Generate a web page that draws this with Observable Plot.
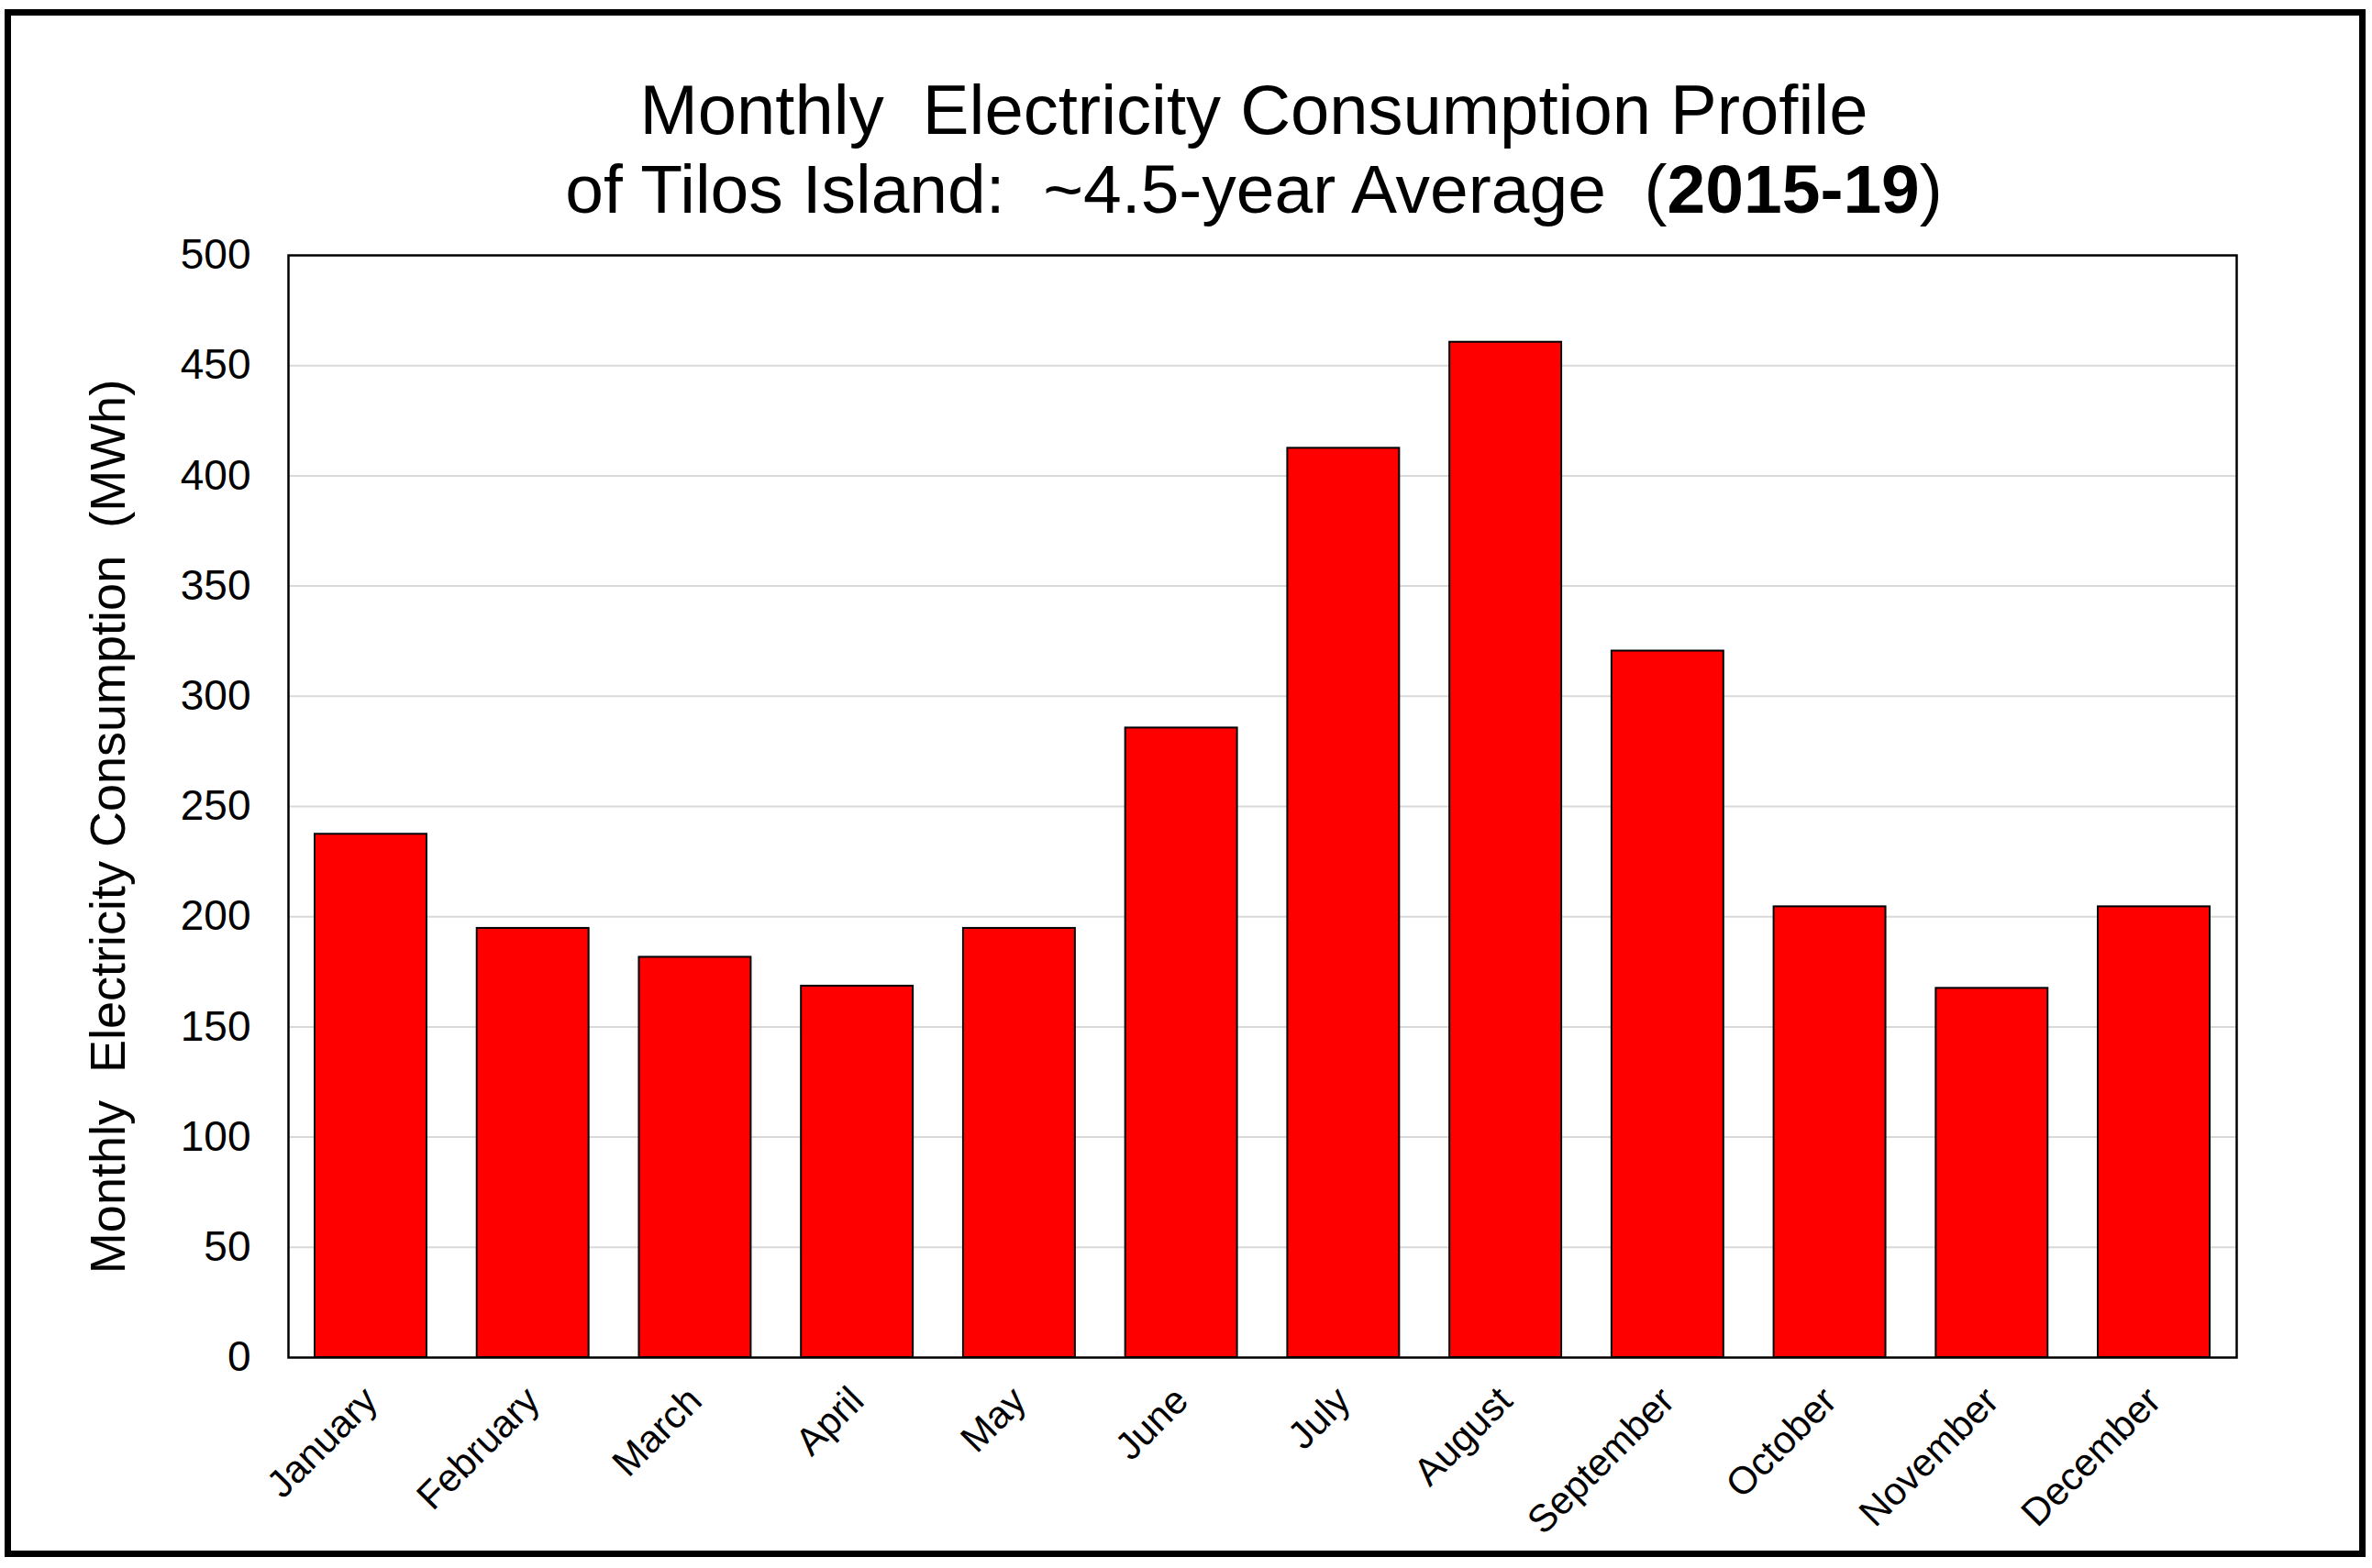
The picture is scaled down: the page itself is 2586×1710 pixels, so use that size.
<!DOCTYPE html>
<html>
<head>
<meta charset="utf-8">
<script src="https://cdn.jsdelivr.net/npm/d3@7"></script>
<script src="https://cdn.jsdelivr.net/npm/@observablehq/plot@0.6"></script>
<style>
  html, body { margin: 0; padding: 0; background: #fff; }
  #wrap { position: relative; width: 2586px; height: 1710px; overflow: hidden;
          font-family: Arial, "Liberation Sans", sans-serif; background: #fff; }
  #frame { position: absolute; left: 5px; top: 10px; width: 2574px; height: 1688px;
           border: 7px solid #000; box-sizing: border-box; pointer-events: none; }
  #title { position: absolute; left: 148px; top: 77px; width: 2438px; text-align: center;
           font-size: 76px; line-height: 86px; color: #000; white-space: pre; }
  #title .l2 { font-size: 75px; }
  #chart { position: absolute; left: 0; top: 240px; }
</style>
</head>
<body>
<div id="wrap">
  <div id="title"></div>
  <div id="chart"></div>
  <div id="frame"></div>
</div>
<script>
// ---- data ----
const months = ["January", "February", "March", "April", "May", "June",
                "July", "August", "September", "October", "November", "December"];
const consumption = [237.4, 194.7, 181.6, 168.5, 194.7, 285.6, 412.5, 460.6, 320.5, 204.5, 167.5, 204.5];
const yTicks = [0, 50, 100, 150, 200, 250, 300, 350, 400, 450, 500];
const gridTicks = [50, 100, 150, 200, 250, 300, 350, 400, 450];
const titleLine1 = "Monthly  Electricity Consumption Profile";
const titleLine2a = "of Tilos Island:  ~4.5-year Average  (";
const titleLine2b = "2015-19";
const titleLine2c = ")";
const yLabel = "Monthly  Electricity Consumption  (MWh)";

// ---- title ----
const t = document.getElementById("title");
t.append(document.createTextNode(titleLine1));
t.append(document.createElement("br"));
const l2 = document.createElement("span");
l2.className = "l2";
l2.append(document.createTextNode(titleLine2a));
const b = document.createElement("b");
b.textContent = titleLine2b;
l2.append(b);
l2.append(document.createTextNode(titleLine2c));
t.append(l2);

// ---- chart ----
const table = months.map((m, i) => ({month: m, value: consumption[i]}));

const chart = Plot.plot({
  width: 2586,
  height: 1470,
  marginTop: 38,
  marginBottom: 230,
  marginLeft: 314,
  marginRight: 148,
  style: {fontFamily: 'Arial, "Liberation Sans", sans-serif', background: "transparent", color: "#000", overflow: "visible", whiteSpace: "pre"},
  x: {domain: months, paddingInner: 0.31, paddingOuter: 0.164, round: false, label: null},
  y: {domain: [0, 500], label: null},
  marks: [
    Plot.ruleY(gridTicks, {stroke: "#d9d9d9", strokeWidth: 2}),
    Plot.barY(table, {x: "month", y: "value", fill: "#ff0000", stroke: "#000", strokeWidth: 2}),
    Plot.frame({stroke: "#000", strokeWidth: 2.5}),
    Plot.axisY({ticks: yTicks, tickSize: 0, tickPadding: 41, fontSize: 46, label: null}),
    Plot.axisX({tickRotate: -45, tickSize: 0, tickPadding: 40, fontSize: 42, label: null}),
    Plot.text([yLabel], {frameAnchor: "left", textAnchor: "middle", rotate: -90, dx: -196, dy: 22, fontSize: 54, fill: "#000"})
  ]
});
document.getElementById("chart").append(chart);
</script>
</body>
</html>
